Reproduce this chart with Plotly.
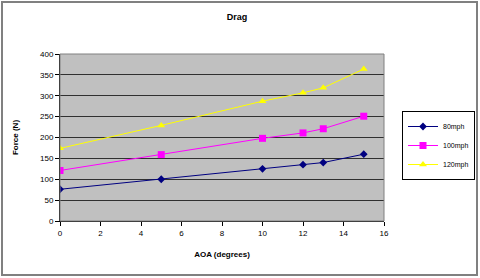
import plotly.graph_objects as go

aoa = [0, 5, 10, 12, 13, 15]
mph80 = [76, 100, 125, 135, 140, 160]
mph100 = [121, 159, 198, 211, 221, 251]
mph120 = [174, 229, 287, 307, 319, 364]
names = ["80mph", "100mph", "120mph"]

W, H = 480, 278
L, R, T, B = 60, 384, 54, 221

fig = go.Figure()
fig.add_trace(go.Scatter(x=aoa, y=mph80, name=names[0], mode="lines+markers",
                         line=dict(color="#000080", width=1),
                         marker=dict(symbol="diamond", size=6, color="#000080")))
fig.add_trace(go.Scatter(x=aoa, y=mph100, name=names[1], mode="lines+markers",
                         line=dict(color="#FF00FF", width=1),
                         marker=dict(symbol="square", size=7, color="#FF00FF")))
fig.add_trace(go.Scatter(x=aoa, y=mph120, name=names[2], mode="lines+markers",
                         line=dict(color="#FFFF00", width=1),
                         marker=dict(symbol="triangle-up", size=7, color="#FFFF00")))

def px(x):
    return (x - L) / (R - L)

def py(y):
    return (B - y) / (B - T)

fig.update_layout(
    width=W, height=H,
    margin=dict(l=L, r=W - R, t=T, b=H - B, autoexpand=False),
    paper_bgcolor="white",
    plot_bgcolor="#C0C0C0",
    font=dict(family="Liberation Sans, Arial", size=8, color="black"),
    title=dict(text="<b>Drag</b>", x=237 / W, xref="container", xanchor="center",
               y=1 - 17 / H, yanchor="middle",
               font=dict(size=9, color="black")),
    showlegend=True,
    legend=dict(x=px(402), y=py(111), xanchor="left", yanchor="top",
                bordercolor="black", borderwidth=1, bgcolor="white",
                font=dict(size=7), tracegroupgap=4, itemwidth=30),
    xaxis=dict(range=[0, 16], dtick=2, showgrid=False, zeroline=False,
               ticks="outside", ticklen=4, tickcolor="black",
               showline=True, linecolor="black", linewidth=1,
               title=dict(text="<b>AOA (degrees)</b>", font=dict(size=8), standoff=14)),
    yaxis=dict(range=[0, 400], dtick=50, showgrid=True, gridcolor="#303030", gridwidth=1,
               zeroline=False, ticks="outside", ticklen=4, tickcolor="black",
               showline=True, linecolor="black", linewidth=1,
               title=dict(text="<b>Force (N)</b>", font=dict(size=8), standoff=20)),
)

# plot area right/top border
fig.add_shape(type="rect", xref="paper", yref="paper", x0=0, x1=1, y0=0, y1=1,
              line=dict(color="#808080", width=1))
# outer chart border
fig.add_shape(type="rect", xref="paper", yref="paper",
              x0=px(2), x1=px(477), y0=py(275), y1=py(2),
              line=dict(color="#808080", width=2))

fig.write_html("out.html")
